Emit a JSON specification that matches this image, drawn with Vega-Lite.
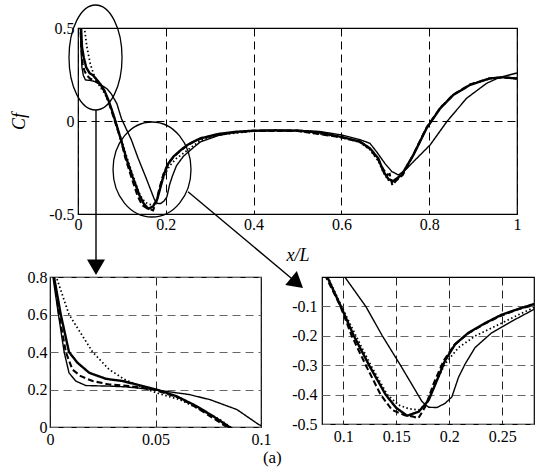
{
  "$schema": "https://vega.github.io/schema/vega-lite/v6.json",
  "padding": {"left": 10, "top": 1, "right": 5, "bottom": 5},
  "background": "white",
  "config": {
    "view": {"stroke": "#000", "strokeWidth": 1.2},
    "font": "Liberation Serif",
    "axis": {"labelFont": "Liberation Serif", "labelFontSize": 16, "labelColor": "#000", "domain": false, "ticks": false, "labelFlush": false, "labelOverlap": false, "gridDash": [8, 5], "gridColor": "#000", "gridOpacity": 1, "gridWidth": 1, "titleFont": "Liberation Serif", "titleFontStyle": "italic", "titleFontWeight": "normal", "titleFontSize": 18, "titleColor": "#000", "labelExpr": "toString(datum.value)"}
  },
  "title": {"text": "(a)", "orient": "bottom", "anchor": "middle", "fontSize": 17, "font": "Liberation Serif", "fontWeight": "normal", "color": "#000", "offset": 2},
  "datasets": {
    "cf": [
      {"s":"thick","x":0.0005,"y":1.3},{"s":"thick","x":0.0019,"y":0.8},{"s":"thick","x":0.0051,"y":0.6},{"s":"thick","x":0.009,"y":0.4},{"s":"thick","x":0.013,"y":0.343},{"s":"thick","x":0.0186,"y":0.289},{"s":"thick","x":0.0265,"y":0.257},{"s":"thick","x":0.0345,"y":0.245},{"s":"thick","x":0.044,"y":0.218},{"s":"thick","x":0.0504,"y":0.2},{"s":"thick","x":0.06,"y":0.164},{"s":"thick","x":0.0695,"y":0.111},{"s":"thick","x":0.0774,"y":0.057},{"s":"thick","x":0.085,"y":0},{"s":"thick","x":0.0978,"y":-0.1},{"s":"thick","x":0.11,"y":-0.2},{"s":"thick","x":0.1244,"y":-0.3},{"s":"thick","x":0.14,"y":-0.4},{"s":"thick","x":0.15,"y":-0.445},{"s":"thick","x":0.1603,"y":-0.472},{"s":"thick","x":0.1713,"y":-0.458},{"s":"thick","x":0.1806,"y":-0.419},{"s":"thick","x":0.1884,"y":-0.352},{"s":"thick","x":0.196,"y":-0.285},{"s":"thick","x":0.2056,"y":-0.229},{"s":"thick","x":0.218,"y":-0.19},{"s":"thick","x":0.2338,"y":-0.157},{"s":"thick","x":0.249,"y":-0.129},{"s":"thick","x":0.265,"y":-0.109},{"s":"thick","x":0.279,"y":-0.093},{"s":"thick","x":0.32,"y":-0.07},{"s":"thick","x":0.36,"y":-0.058},{"s":"thick","x":0.4,"y":-0.052},{"s":"thick","x":0.45,"y":-0.05},{"s":"thick","x":0.5,"y":-0.052},{"s":"thick","x":0.55,"y":-0.062},{"s":"thick","x":0.6,"y":-0.086},{"s":"thick","x":0.642,"y":-0.11},{"s":"thick","x":0.665,"y":-0.147},{"s":"thick","x":0.684,"y":-0.201},{"s":"thick","x":0.696,"y":-0.272},{"s":"thick","x":0.707,"y":-0.312},{"s":"thick","x":0.718,"y":-0.323},{"s":"thick","x":0.737,"y":-0.29},{"s":"thick","x":0.764,"y":-0.183},{"s":"thick","x":0.794,"y":-0.039},{"s":"thick","x":0.825,"y":0.068},{"s":"thick","x":0.855,"y":0.14},{"s":"thick","x":0.893,"y":0.194},{"s":"thick","x":0.938,"y":0.229},{"s":"thick","x":0.969,"y":0.235},{"s":"thick","x":1,"y":0.228},
      {"s":"dashed","x":0.0005,"y":1.3},{"s":"dashed","x":0.0019,"y":0.8},{"s":"dashed","x":0.0043,"y":0.6},{"s":"dashed","x":0.0075,"y":0.4},{"s":"dashed","x":0.0106,"y":0.307},{"s":"dashed","x":0.0146,"y":0.271},{"s":"dashed","x":0.0202,"y":0.245},{"s":"dashed","x":0.028,"y":0.227},{"s":"dashed","x":0.0377,"y":0.218},{"s":"dashed","x":0.0488,"y":0.2},{"s":"dashed","x":0.0615,"y":0.155},{"s":"dashed","x":0.071,"y":0.093},{"s":"dashed","x":0.0838,"y":0},{"s":"dashed","x":0.0975,"y":-0.1},{"s":"dashed","x":0.108,"y":-0.2},{"s":"dashed","x":0.1213,"y":-0.3},{"s":"dashed","x":0.1353,"y":-0.4},{"s":"dashed","x":0.146,"y":-0.452},{"s":"dashed","x":0.158,"y":-0.47},{"s":"dashed","x":0.165,"y":-0.474},{"s":"dashed","x":0.171,"y":-0.48},{"s":"dashed","x":0.1775,"y":-0.441},{"s":"dashed","x":0.1853,"y":-0.363},{"s":"dashed","x":0.1947,"y":-0.285},{"s":"dashed","x":0.205,"y":-0.23},{"s":"dashed","x":0.218,"y":-0.192},{"s":"dashed","x":0.234,"y":-0.158},{"s":"dashed","x":0.25,"y":-0.13},{"s":"dashed","x":0.265,"y":-0.11},{"s":"dashed","x":0.28,"y":-0.095},{"s":"dashed","x":0.32,"y":-0.07},{"s":"dashed","x":0.4,"y":-0.053},{"s":"dashed","x":0.5,"y":-0.053},{"s":"dashed","x":0.6,"y":-0.088},{"s":"dashed","x":0.642,"y":-0.112},{"s":"dashed","x":0.665,"y":-0.15},{"s":"dashed","x":0.684,"y":-0.21},{"s":"dashed","x":0.696,"y":-0.262},{"s":"dashed","x":0.705,"y":-0.29},{"s":"dashed","x":0.71,"y":-0.285},{"s":"dashed","x":0.716,"y":-0.345},{"s":"dashed","x":0.725,"y":-0.32},{"s":"dashed","x":0.74,"y":-0.29},{"s":"dashed","x":0.764,"y":-0.18},{"s":"dashed","x":0.794,"y":-0.035},{"s":"dashed","x":0.825,"y":0.07},{"s":"dashed","x":0.855,"y":0.142},{"s":"dashed","x":0.893,"y":0.196},{"s":"dashed","x":0.938,"y":0.229},{"s":"dashed","x":0.969,"y":0.235},{"s":"dashed","x":1,"y":0.228},
      {"s":"dotted","x":0.0005,"y":1.3},{"s":"dotted","x":0.003,"y":0.8},{"s":"dotted","x":0.009,"y":0.6},{"s":"dotted","x":0.0202,"y":0.4},{"s":"dotted","x":0.028,"y":0.307},{"s":"dotted","x":0.0353,"y":0.254},{"s":"dotted","x":0.0424,"y":0.218},{"s":"dotted","x":0.0504,"y":0.182},{"s":"dotted","x":0.0615,"y":0.146},{"s":"dotted","x":0.0711,"y":0.093},{"s":"dotted","x":0.0806,"y":0.039},{"s":"dotted","x":0.0855,"y":0},{"s":"dotted","x":0.0985,"y":-0.1},{"s":"dotted","x":0.112,"y":-0.2},{"s":"dotted","x":0.126,"y":-0.3},{"s":"dotted","x":0.1416,"y":-0.4},{"s":"dotted","x":0.1525,"y":-0.436},{"s":"dotted","x":0.162,"y":-0.448},{"s":"dotted","x":0.1713,"y":-0.452},{"s":"dotted","x":0.179,"y":-0.43},{"s":"dotted","x":0.1869,"y":-0.363},{"s":"dotted","x":0.196,"y":-0.296},{"s":"dotted","x":0.2088,"y":-0.24},{"s":"dotted","x":0.2244,"y":-0.201},{"s":"dotted","x":0.2431,"y":-0.168},{"s":"dotted","x":0.265,"y":-0.129},{"s":"dotted","x":0.28,"y":-0.104},{"s":"dotted","x":0.32,"y":-0.075},{"s":"dotted","x":0.4,"y":-0.054},{"s":"dotted","x":0.5,"y":-0.053},{"s":"dotted","x":0.6,"y":-0.088},{"s":"dotted","x":0.642,"y":-0.115},{"s":"dotted","x":0.665,"y":-0.155},{"s":"dotted","x":0.684,"y":-0.215},{"s":"dotted","x":0.696,"y":-0.28},{"s":"dotted","x":0.707,"y":-0.318},{"s":"dotted","x":0.718,"y":-0.33},{"s":"dotted","x":0.737,"y":-0.292},{"s":"dotted","x":0.764,"y":-0.18},{"s":"dotted","x":0.794,"y":-0.036},{"s":"dotted","x":0.825,"y":0.07},{"s":"dotted","x":0.855,"y":0.142},{"s":"dotted","x":0.893,"y":0.195},{"s":"dotted","x":0.938,"y":0.23},{"s":"dotted","x":0.969,"y":0.236},{"s":"dotted","x":1,"y":0.23},
      {"s":"thin","x":0.0005,"y":1.3},{"s":"thin","x":0.0014,"y":0.8},{"s":"thin","x":0.004,"y":0.6},{"s":"thin","x":0.0067,"y":0.4},{"s":"thin","x":0.009,"y":0.289},{"s":"thin","x":0.0122,"y":0.245},{"s":"thin","x":0.017,"y":0.221},{"s":"thin","x":0.028,"y":0.218},{"s":"thin","x":0.036,"y":0.214},{"s":"thin","x":0.0488,"y":0.2},{"s":"thin","x":0.066,"y":0.173},{"s":"thin","x":0.0758,"y":0.146},{"s":"thin","x":0.0886,"y":0.093},{"s":"thin","x":0.099,"y":0.0125},{"s":"thin","x":0.1015,"y":0},{"s":"thin","x":0.1213,"y":-0.1},{"s":"thin","x":0.1369,"y":-0.2},{"s":"thin","x":0.154,"y":-0.3},{"s":"thin","x":0.168,"y":-0.385},{"s":"thin","x":0.1744,"y":-0.424},{"s":"thin","x":0.1806,"y":-0.443},{"s":"thin","x":0.1884,"y":-0.444},{"s":"thin","x":0.196,"y":-0.43},{"s":"thin","x":0.2025,"y":-0.408},{"s":"thin","x":0.2088,"y":-0.341},{"s":"thin","x":0.215,"y":-0.296},{"s":"thin","x":0.2244,"y":-0.24},{"s":"thin","x":0.24,"y":-0.19},{"s":"thin","x":0.2588,"y":-0.151},{"s":"thin","x":0.279,"y":-0.112},{"s":"thin","x":0.32,"y":-0.078},{"s":"thin","x":0.36,"y":-0.06},{"s":"thin","x":0.4,"y":-0.052},{"s":"thin","x":0.5,"y":-0.05},{"s":"thin","x":0.55,"y":-0.056},{"s":"thin","x":0.6,"y":-0.075},{"s":"thin","x":0.642,"y":-0.1},{"s":"thin","x":0.665,"y":-0.12},{"s":"thin","x":0.68,"y":-0.165},{"s":"thin","x":0.699,"y":-0.228},{"s":"thin","x":0.715,"y":-0.272},{"s":"thin","x":0.73,"y":-0.29},{"s":"thin","x":0.745,"y":-0.265},{"s":"thin","x":0.764,"y":-0.219},{"s":"thin","x":0.802,"y":-0.129},{"s":"thin","x":0.84,"y":-0.004},{"s":"thin","x":0.885,"y":0.122},{"s":"thin","x":0.931,"y":0.203},{"s":"thin","x":0.961,"y":0.235},{"s":"thin","x":1,"y":0.258}
    ],
    "notes": [
      {"name":"ellipseA","x":0.0399,"y":0.3414},
      {"name":"ellipseB","x":0.1686,"y":-0.2608},
      {"name":"arrowA","x":0.041,"y":0.059,"x2":0.041,"y2":-0.79},
      {"name":"arrowB","x":0.2506,"y":-0.38,"x2":0.4989,"y2":-0.871},
      {"name":"headA","x":0.041,"y":-0.786},
      {"name":"headB","x":0.4989,"y":-0.871}
    ]
  },
  "bounds": "flush",
  "spacing": 249,
  "vconcat": [
    {
      "bounds": "flush",
      "spacing": 0,
      "hconcat": [
        {"width": 28, "height": 186, "view": {"stroke": null}, "data": {"values": []}, "mark": {"type": "point", "opacity": 0}},
        {
          "width": 439, "height": 186,
          "layer": [
            {
              "data": {"name": "cf"},
              "mark": {"type": "line", "clip": true, "color": "#000"},
              "encoding": {
                "x": {"field": "x", "type": "quantitative", "scale": {"domain": [0, 1], "nice": false, "zero": false}, "axis": {"values": [0, 0.2, 0.4, 0.6, 0.8, 1], "title": "x/L", "titlePadding": 14, "labelPadding": 2}},
                "y": {"field": "y", "type": "quantitative", "scale": {"domain": [-0.5, 0.5], "nice": false, "zero": false}, "axis": {"values": [-0.5, 0, 0.5], "title": "Cf", "titlePadding": 20, "labelPadding": 4}},
                "strokeDash": {"field": "s", "type": "nominal", "scale": {"domain": ["thick", "dashed", "dotted", "thin"], "range": [[1, 0], [6, 3], [1.5, 2.5], [1, 0]]}, "legend": null},
                "strokeWidth": {"field": "s", "type": "nominal", "scale": {"domain": ["thick", "dashed", "dotted", "thin"], "range": [2.4, 1.4, 1.6, 0.8]}, "legend": null}
              }
            },
            {
              "data": {"name": "notes"},
              "transform": [{"filter": "datum.name == 'ellipseA'"}],
              "mark": {"type": "point", "filled": false, "color": "#000", "opacity": 1, "strokeWidth": 1.3, "size": 11025, "shape": "M0,-1C0.279,-1 0.505,-0.552 0.505,0C0.505,0.552 0.279,1 0,1C-0.279,1 -0.505,0.552 -0.505,0C-0.505,-0.552 -0.279,-1 0,-1Z"},
              "encoding": {
                "x": {"field": "x", "type": "quantitative", "scale": {"domain": [0, 1], "nice": false, "zero": false}},
                "y": {"field": "y", "type": "quantitative", "scale": {"domain": [-0.5, 0.5], "nice": false, "zero": false}}
              }
            },
            {
              "data": {"name": "notes"},
              "transform": [{"filter": "datum.name == 'ellipseB'"}],
              "mark": {"type": "point", "filled": false, "color": "#000", "opacity": 1, "strokeWidth": 1.3, "size": 9025, "shape": "M0,-1C0.453,-1 0.821,-0.552 0.821,0C0.821,0.552 0.453,1 0,1C-0.453,1 -0.821,0.552 -0.821,0C-0.821,-0.552 -0.453,-1 0,-1Z"},
              "encoding": {
                "x": {"field": "x", "type": "quantitative", "scale": {"domain": [0, 1], "nice": false, "zero": false}},
                "y": {"field": "y", "type": "quantitative", "scale": {"domain": [-0.5, 0.5], "nice": false, "zero": false}}
              }
            },
            {
              "data": {"name": "notes"},
              "transform": [{"filter": "datum.name == 'arrowA' || datum.name == 'arrowB'"}],
              "mark": {"type": "rule", "color": "#000", "strokeWidth": 1.4},
              "encoding": {
                "x": {"field": "x", "type": "quantitative", "scale": {"domain": [0, 1], "nice": false, "zero": false}},
                "y": {"field": "y", "type": "quantitative", "scale": {"domain": [-0.5, 0.5], "nice": false, "zero": false}},
                "x2": {"field": "x2"},
                "y2": {"field": "y2"}
              }
            },
            {
              "data": {"name": "notes"},
              "transform": [{"filter": "datum.name == 'headA'"}],
              "mark": {"type": "point", "shape": "triangle-down", "filled": true, "color": "#000", "opacity": 1, "size": 324},
              "encoding": {
                "x": {"field": "x", "type": "quantitative", "scale": {"domain": [0, 1], "nice": false, "zero": false}},
                "y": {"field": "y", "type": "quantitative", "scale": {"domain": [-0.5, 0.5], "nice": false, "zero": false}}
              }
            },
            {
              "data": {"name": "notes"},
              "transform": [{"filter": "datum.name == 'headB'"}],
              "mark": {"type": "point", "shape": "triangle-right", "angle": 40, "filled": true, "color": "#000", "opacity": 1, "size": 324},
              "encoding": {
                "x": {"field": "x", "type": "quantitative", "scale": {"domain": [0, 1], "nice": false, "zero": false}},
                "y": {"field": "y", "type": "quantitative", "scale": {"domain": [-0.5, 0.5], "nice": false, "zero": false}}
              }
            }
          ]
        }
      ]
    },
    {
      "bounds": "flush",
      "spacing": 61,
      "hconcat": [
        {
          "width": 211, "height": 150,
          "data": {"name": "cf"},
          "mark": {"type": "line", "clip": true, "color": "#000"},
          "encoding": {
            "x": {"field": "x", "type": "quantitative", "scale": {"domain": [0, 0.1], "nice": false, "zero": false}, "axis": {"values": [0, 0.05, 0.1], "title": null, "labelPadding": 4, "gridColor": "#222"}},
            "y": {"field": "y", "type": "quantitative", "scale": {"domain": [0, 0.8], "nice": false, "zero": false}, "axis": {"values": [0, 0.2, 0.4, 0.6, 0.8], "title": null, "labelPadding": 3, "gridColor": "#666"}},
            "strokeDash": {"field": "s", "type": "nominal", "scale": {"domain": ["thick", "dashed", "dotted", "thin"], "range": [[1, 0], [6, 3], [1.5, 2.5], [1, 0]]}, "legend": null},
            "strokeWidth": {"field": "s", "type": "nominal", "scale": {"domain": ["thick", "dashed", "dotted", "thin"], "range": [2.4, 1.4, 1.6, 0.8]}, "legend": null}
          }
        },
        {
          "width": 212, "height": 147,
          "data": {"name": "cf"},
          "mark": {"type": "line", "clip": true, "color": "#000"},
          "encoding": {
            "x": {"field": "x", "type": "quantitative", "scale": {"domain": [0.08, 0.28], "nice": false, "zero": false}, "axis": {"values": [0.1, 0.15, 0.2, 0.25], "title": null, "labelPadding": 4, "gridColor": "#222"}},
            "y": {"field": "y", "type": "quantitative", "scale": {"domain": [-0.5, 0], "nice": false, "zero": false}, "axis": {"values": [-0.5, -0.4, -0.3, -0.2, -0.1], "title": null, "labelPadding": 5, "gridColor": "#666"}},
            "strokeDash": {"field": "s", "type": "nominal", "scale": {"domain": ["thick", "dashed", "dotted", "thin"], "range": [[1, 0], [6, 3], [1.5, 2.5], [1, 0]]}, "legend": null},
            "strokeWidth": {"field": "s", "type": "nominal", "scale": {"domain": ["thick", "dashed", "dotted", "thin"], "range": [2.4, 1.4, 1.6, 0.8]}, "legend": null}
          }
        }
      ]
    }
  ],
  "resolve": {"scale": {"x": "independent", "y": "independent", "strokeDash": "shared", "strokeWidth": "shared"}}
}
